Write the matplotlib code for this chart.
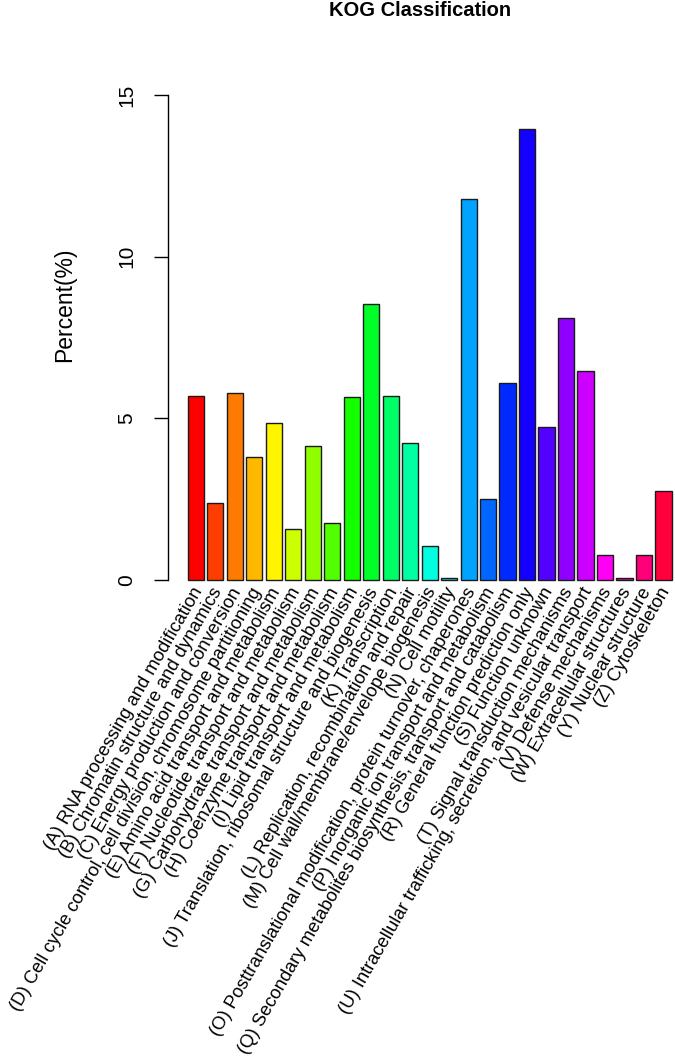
import matplotlib
matplotlib.use("Agg")
import matplotlib.pyplot as plt
import numpy as np

plt.rcParams['font.family'] = ['Liberation Sans', 'DejaVu Sans']

categories = [
    "(A) RNA processing and modification",
    "(B) Chromatin structure and dynamics",
    "(C) Energy production and conversion",
    "(D) Cell cycle control, cell division, chromosome partitioning",
    "(E) Amino acid transport and metabolism",
    "(F) Nucleotide transport and metabolism",
    "(G) Carbohydrate transport and metabolism",
    "(H) Coenzyme transport and metabolism",
    "(I) Lipid transport and metabolism",
    "(J) Translation, ribosomal structure and biogenesis",
    "(K) Transcription",
    "(L) Replication, recombination and repair",
    "(M) Cell wall/membrane/envelope biogenesis",
    "(N) Cell motility",
    "(O) Posttranslational modification, protein turnover, chaperones",
    "(P) Inorganic ion transport and metabolism",
    "(Q) Secondary metabolites biosynthesis, transport and catabolism",
    "(R) General function prediction only",
    "(S) Function unknown",
    "(T) Signal transduction mechanisms",
    "(U) Intracellular trafficking, secretion, and vesicular transport",
    "(V) Defense mechanisms",
    "(W) Extracellular structures",
    "(Y) Nuclear structure",
    "(Z) Cytoskeleton",
]
percent = [5.69, 2.37, 5.79, 3.81, 4.87, 1.57, 4.14, 1.75, 5.67, 8.53,
           5.70, 4.25, 1.05, 0.05, 11.77, 2.50, 6.08, 13.94, 4.74, 8.09,
           6.46, 0.76, 0.05, 0.76, 2.75]
colors = ["#FF0000", "#FF3D00", "#FF7A00", "#FFB800", "#FFF500", "#CCFF00",
          "#8FFF00", "#52FF00", "#14FF00", "#00FF29", "#00FF66", "#00FFA3",
          "#00FFE0", "#00E0FF", "#00A3FF", "#0066FF", "#0029FF", "#1400FF",
          "#5200FF", "#8F00FF", "#CC00FF", "#FF00F5", "#FF00B8", "#FF007A",
          "#FF003D"]
yticks = [0, 5, 10, 15]

W, H = 675, 1057
fig = plt.figure(figsize=(W / 100, H / 100), dpi=100)

# plot region in pixels (R-style)
left_px, right_px = 168.3, 691.0
top_px, bottom_px = 75.6, 599.4
ax = fig.add_axes([left_px / W, 1 - bottom_px / H,
                   (right_px - left_px) / W, (bottom_px - top_px) / H])

n = len(percent)
centers = 0.7 + 1.2 * np.arange(n)
ax.bar(centers, percent, width=1.0, color=colors, edgecolor="#1a1a1a",
       linewidth=1.0, zorder=2)

ax.set_xlim(-0.992, 31.192)
ax.set_ylim(-0.6, 15.6)

for s in ["top", "right", "bottom"]:
    ax.spines[s].set_visible(False)
ax.spines["left"].set_bounds(0, 15)
ax.spines["left"].set_linewidth(1.0)
ax.set_xticks([])
ax.set_yticks(yticks)
ax.set_yticklabels([str(t) for t in yticks], rotation=90, va="center",
                   fontsize=15)
ax.tick_params(axis="y", length=10, width=1.0, pad=13)
ax.set_ylabel("Percent(%)", fontsize=16.5)
ax.yaxis.set_label_coords((76 - left_px) / (right_px - left_px),
                          (bottom_px - 305) / (bottom_px - top_px))

for xc, lab in zip(centers, categories):
    ax.annotate(lab, xy=(xc, 0), xycoords="data", xytext=(3, -9),
                textcoords="offset pixels", rotation=60,
                rotation_mode="anchor", ha="right", va="center",
                fontsize=13.2, annotation_clip=False)

fig.text(420 / W, 1 - 10 / H, "KOG Classification", ha="center",
         va="center", fontsize=14.5, fontweight="bold")

fig.savefig("out.png", dpi=100)
